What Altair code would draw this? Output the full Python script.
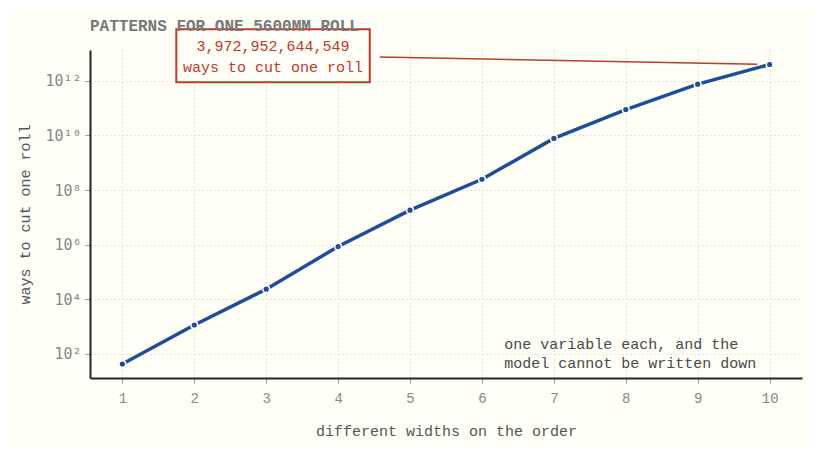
import altair as alt
import pandas as pd

# number of different widths on the order -> ways to cut one 5600mm roll
widths = [1, 2, 3, 4, 5, 6, 7, 8, 9, 10]
ways = [43, 1150, 23500, 8.6e5, 1.85e7, 2.5e8, 7.8e9, 8.9e10, 7.6e11, 3972952644549]

y_ticks = [1e2, 1e4, 1e6, 1e8, 1e10, 1e12]
y_tick_labels = ["10²", "10⁴", "10⁶", "10⁸", "10¹⁰", "10¹²"]
x_ticks = widths

title = "PATTERNS FOR ONE 5600MM ROLL"
callout_lines = ["3,972,952,644,549", "ways to cut one roll"]
note_lines = ["one variable each, and the", "model cannot be written down"]

BG = "#fffef7"
BLUE = "#1f4e99"
RED = "#c0392b"
FONT = "Liberation Mono"

df = pd.DataFrame({"widths": widths, "ways": ways})

x_scale = alt.Scale(domain=[0.55, 10.45], nice=False, zero=False)
y_scale = alt.Scale(type="log", domain=[13.2, 1.35e13], nice=False)

label_expr = "[" + ",".join(f"'{s}'" for s in y_tick_labels) + "][round(log(datum.value) / LN10 / 2) - 1]"

x_enc = alt.X("widths:Q", scale=x_scale, title="different widths on the order",
              axis=alt.Axis(values=x_ticks, format="d", labelPadding=8, titlePadding=18))
y_enc = alt.Y("ways:Q", scale=y_scale, title="ways to cut one roll",
              axis=alt.Axis(values=y_ticks, labelExpr=label_expr, labelFont="DejaVu Sans Mono",
                            labelFontSize=15, labelPadding=4, titlePadding=12))

line = alt.Chart(df).mark_line(
    color=BLUE, strokeWidth=3.5,
    point=alt.OverlayMarkDef(filled=True, color=BLUE, stroke="white", strokeWidth=1.5, size=45),
).encode(x=x_enc, y=y_enc)

# callout: leader line, box and text
leader = pd.DataFrame({"x": [4.58], "y": [10 ** 12.87], "x2": [9.83], "y2": [10 ** 12.61]})
rule = alt.Chart(leader).mark_rule(color=RED, strokeWidth=1.5).encode(
    x="x:Q", y="y:Q", x2="x2:Q", y2="y2:Q")

box_df = pd.DataFrame({"x": [1.75], "x2": [4.44], "y": [10 ** 11.95], "y2": [10 ** 13.89]})
box = alt.Chart(box_df).mark_rect(fill=BG, stroke=RED, strokeWidth=2).encode(
    x="x:Q", x2="x2:Q", y="y:Q", y2="y2:Q")

callout_df = pd.DataFrame({"x": [3.095], "y": [10 ** 13.26], "t": [callout_lines]})
callout = alt.Chart(callout_df).mark_text(
    font=FONT, fontSize=15, color=RED, lineHeight=21, baseline="middle", align="center"
).encode(x="x:Q", y="y:Q", text="t")

note_df = pd.DataFrame({"x": [6.31], "y": [10 ** 2.38], "t": [note_lines]})
note = alt.Chart(note_df).mark_text(
    font=FONT, fontSize=15, color="#4a4a4a", lineHeight=19, baseline="middle", align="left"
).encode(x="x:Q", y="y:Q", text="t")

chart = alt.layer(line, rule, box, callout, note).properties(
    width=712, height=328,
    background=BG,
    autosize=alt.AutoSizeParams(type="none"),
    padding={"left": 82, "top": 42, "right": 9, "bottom": 71},
    title=alt.TitleParams(title, anchor="start", frame="group", font=FONT, fontSize=16,
                          fontWeight="bold", color="#777", offset=4, dy=10),
).configure_view(strokeWidth=0).configure_axis(
    labelFont=FONT, labelFontSize=14, labelColor="#888",
    tickColor="#999", tickSize=5,
    domainColor="#222", domainWidth=2,
    gridColor="#c8c8c8", gridDash=[1, 3],
    titleFont=FONT, titleFontSize=15, titleColor="#555", titleFontWeight="normal",
)

chart.save("out.html", embed_options={"renderer": "svg", "actions": False})
